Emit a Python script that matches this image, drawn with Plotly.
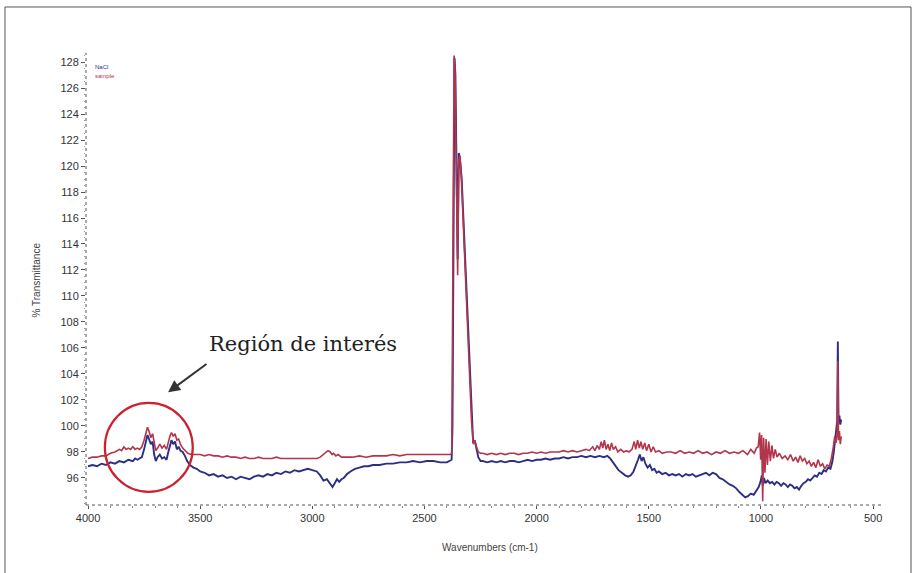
import plotly.graph_objects as go

# ---------------- data ----------------
nacl_wn = [4000,3980,3960,3940,3920,3900,3880,3860,3840,3820,3800,3790,3780,3770,
           3760,3750,3742,3735,3728,3720,3712,3705,3698,3690,3680,3670,3660,3650,
           3642,3635,3628,3620,3612,3604,3596,3588,3578,3568,3558,3545,3530,3515,
           3500,3480,3460,3440,3420,3400,3380,3360,3340,3320,3300,3280,3260,3240,
           3220,3200,3180,3160,3140,3120,3100,3080,3060,3040,3020,3000,2980,2965,
           2950,2935,2920,2910,2900,2890,2880,2870,2860,2845,2830,2810,2790,2770,
           2750,2730,2700,2670,2640,2610,2580,2550,2520,2490,2460,2430,2400,2385,
           2379,2375,2370,2366,2362,2357,2352,2347,2342,2334,2320,2305,2295,2283,
           2276,2268,2260,2250,2240,2220,2200,2180,2160,2140,2120,2100,2080,2060,
           2040,2020,2000,1980,1960,1940,1920,1900,1880,1860,1840,1820,1800,1780,
           1760,1740,1720,1700,1685,1672,1660,1648,1635,1620,1605,1592,1580,1568,
           1558,1548,1540,1532,1524,1515,1505,1495,1485,1475,1465,1455,1440,1425,
           1410,1395,1380,1365,1350,1335,1320,1305,1290,1275,1260,1245,1230,1215,
           1200,1185,1170,1155,1140,1125,1110,1095,1082,1070,1058,1045,1032,1020,
           1010,1002,996,992,986,980,970,960,950,940,930,920,910,900,890,880,870,
           860,850,840,830,820,810,800,790,780,770,760,750,740,730,720,710,700,690,
           682,675,670,665,660,657,654,650,646,642]
nacl_t = [96.9,97.0,96.9,97.1,97.0,97.2,97.1,97.3,97.2,97.4,97.3,97.5,97.4,97.5,
          97.6,98.2,98.9,99.3,99.0,98.6,98.8,97.8,97.3,97.6,97.8,97.5,97.6,97.4,
          98.0,98.5,98.9,98.6,98.8,98.2,98.4,98.1,98.0,97.7,97.3,97.0,96.8,96.7,
          96.5,96.4,96.2,96.3,96.1,96.2,96.0,96.1,95.9,96.1,96.0,95.9,96.1,96.2,
          96.1,96.3,96.2,96.4,96.3,96.5,96.4,96.6,96.5,96.6,96.7,96.6,96.5,96.2,
          95.8,95.9,95.5,95.3,95.6,95.9,95.7,95.9,96.0,96.3,96.5,96.7,96.8,96.9,
          96.9,97.0,97.0,97.1,97.1,97.2,97.2,97.3,97.2,97.3,97.3,97.2,97.2,97.3,
          97.4,100.0,116.0,128.3,127.0,118.5,112.8,121.0,120.6,119.0,113.5,107.5,103.5,98.7,
          98.9,98.2,97.6,97.3,97.3,97.2,97.3,97.2,97.3,97.2,97.3,97.3,97.2,97.3,
          97.4,97.3,97.4,97.4,97.5,97.4,97.5,97.5,97.6,97.5,97.6,97.6,97.7,97.6,
          97.7,97.6,97.7,97.6,97.7,97.5,97.2,96.9,96.6,96.4,96.2,96.1,96.2,96.5,
          96.9,97.4,97.8,97.3,97.6,97.1,96.8,97.0,96.6,96.7,96.4,96.5,96.3,96.4,
          96.2,96.3,96.2,96.3,96.1,96.3,96.2,96.3,96.1,96.2,96.3,96.4,96.2,96.4,
          96.3,96.0,95.9,95.7,95.5,95.4,95.2,94.9,94.7,94.5,94.6,94.8,94.7,95.0,
          95.3,95.7,96.2,95.4,96.0,95.6,95.8,95.6,95.7,95.5,95.7,95.6,95.4,95.6,95.5,95.3,95.5,
          95.4,95.2,95.3,95.1,95.4,95.6,95.7,95.9,95.8,96.0,96.2,96.1,96.4,96.3,96.6,96.5,96.8,96.7,
          97.2,98.0,99.0,99.8,100.4,106.5,100.2,100.8,100.1,100.5]

sample_wn = [4000,3980,3960,3940,3920,3900,3880,3860,3850,3840,3830,3820,3810,3800,
             3790,3780,3770,3760,3750,3742,3735,3728,3720,3712,3705,3698,3690,3680,
             3670,3660,3650,3642,3635,3628,3620,3612,3604,3596,3588,3578,3568,3555,
             3540,3520,3500,3480,3460,3440,3420,3400,3380,3360,3340,3320,3300,3280,
             3260,3240,3220,3200,3180,3160,3140,3120,3100,3080,3060,3040,3020,3000,
             2980,2965,2950,2940,2930,2920,2912,2905,2895,2885,2870,2850,2820,2790,
             2760,2730,2700,2670,2640,2610,2580,2550,2520,2490,2460,2430,2400,2385,
             2378,2374,2368,2364,2358,2352,2347,2342,2336,2325,2312,2300,2290,2282,
             2276,2268,2260,2250,2240,2220,2200,2180,2160,2140,2120,2100,2080,2060,
             2040,2020,2000,1980,1960,1940,1920,1900,1880,1860,1840,1820,1800,1780,
             1765,1750,1740,1730,1720,1712,1705,1698,1690,1682,1674,1666,1658,1648,
             1638,1625,1612,1600,1588,1575,1565,1558,1550,1542,1535,1527,1518,1510,
             1500,1490,1480,1470,1455,1440,1420,1400,1380,1360,1340,1320,1300,1280,
             1260,1240,1220,1200,1180,1160,1140,1120,1100,1080,1060,1045,1030,1020,
             1012,1006,1001,997,992,988,982,977,971,965,958,951,944,936,928,918,905,
             892,880,868,856,845,835,825,815,805,795,785,775,765,755,745,735,725,715,
             705,695,686,678,671,665,660,657,654,650,646,642]
sample_t = [97.5,97.6,97.6,97.7,97.7,97.9,98.0,98.2,98.1,98.4,98.2,98.3,98.2,98.4,
            98.2,98.3,98.2,98.4,98.9,99.5,99.9,99.6,99.1,99.4,98.6,98.1,98.3,98.6,
            98.3,98.5,98.2,98.8,99.2,99.5,99.2,99.4,98.9,99.0,98.6,98.3,98.1,97.9,
            97.8,97.8,97.8,97.7,97.8,97.7,97.7,97.6,97.7,97.6,97.6,97.5,97.6,97.5,
            97.5,97.6,97.5,97.5,97.5,97.6,97.5,97.5,97.5,97.5,97.5,97.5,97.5,97.5,
            97.5,97.6,97.8,97.9,98.1,98.0,97.8,97.9,97.7,97.8,97.6,97.6,97.6,97.7,
            97.6,97.7,97.7,97.7,97.8,97.7,97.8,97.8,97.8,97.8,97.8,97.8,97.8,97.8,
            97.9,110.0,128.5,127.5,118.0,111.6,120.5,120.8,119.3,115.0,110.0,104.5,100.3,98.6,
            98.9,98.4,98.0,97.9,97.9,97.8,97.9,97.8,97.9,97.8,97.9,97.9,97.8,97.9,
            97.9,98.0,97.9,98.0,97.9,98.0,98.0,98.0,98.1,98.0,98.1,98.0,98.1,98.2,
            98.1,98.4,98.1,98.5,98.2,98.8,98.3,98.9,98.2,98.6,98.1,98.7,98.2,98.4,
            98.0,98.2,98.0,98.1,98.0,98.2,98.8,98.2,98.9,98.3,98.8,98.2,98.7,98.1,
            98.6,98.0,98.4,98.0,98.1,97.9,98.0,98.0,97.9,98.1,97.9,98.0,97.9,98.1,
            97.9,98.0,97.8,98.0,97.9,98.1,97.9,98.0,97.9,98.1,97.8,98.2,97.9,98.3,
            98.4,99.5,97.4,99.3,94.2,99.1,96.4,99.0,97.0,98.8,97.3,98.5,97.5,98.2,97.6,97.9,97.5,
            97.7,97.4,97.8,97.3,97.6,97.2,97.7,97.3,97.5,97.1,97.3,96.9,97.2,96.8,97.4,96.9,97.1,96.7,
            97.0,96.9,97.5,98.3,99.2,98.7,99.4,105.0,98.9,99.6,98.6,99.2]

x_ticks = [4000, 3500, 3000, 2500, 2000, 1500, 1000, 500]
y_ticks = list(range(96, 129, 2))

BLUE = "#2c2f85"
RED = "#b3354b"
TICKFONT = dict(family="Liberation Sans Narrow, Liberation Sans, Arial", size=11, color="#333")

fig = go.Figure()
fig.add_trace(go.Scatter(x=nacl_wn, y=nacl_t, mode="lines", name="NaCl",
                         line=dict(color=BLUE, width=1.9)))
fig.add_trace(go.Scatter(x=sample_wn, y=sample_t, mode="lines", name="sample",
                         line=dict(color=RED, width=1.6)))

fig.update_layout(
    width=914, height=573, autosize=False,
    margin=dict(l=86, r=36, t=55, b=68),
    paper_bgcolor="white", plot_bgcolor="white",
    showlegend=False,
    xaxis=dict(range=[4009, 478], tickvals=x_ticks, ticktext=[str(v) for v in x_ticks],
               showgrid=False, zeroline=False, showline=False,
               ticks="outside", ticklen=3, tickcolor="#555", tickfont=TICKFONT,
               minor=dict(dtick=100, ticks="outside", ticklen=2, tickcolor="#888")),
    yaxis=dict(range=[93.92, 128.54], tickvals=y_ticks, ticktext=[str(v) for v in y_ticks],
               showgrid=False, zeroline=False, showline=False,
               ticks="outside", ticklen=4, tickcolor="#555", tickfont=TICKFONT,
               minor=dict(dtick=0.5, ticks="outside", ticklen=1, tickcolor="#999")),
)

shapes = [
    # dotted axis lines
    dict(type="line", xref="paper", yref="paper", x0=0, x1=1.005, y0=0, y1=0,
         line=dict(color="#555", width=1, dash="dot")),
    dict(type="line", xref="paper", yref="paper", x0=0, x1=0, y0=0, y1=1.005,
         line=dict(color="#555", width=1, dash="dot")),
    # red circle around the region of interest
    dict(type="circle", xref="x", yref="y", x0=3925, x1=3533, y0=94.93, y1=101.77,
         line=dict(color="#cc2230", width=2.2)),
    # outer frame of the scanned figure (left, top, right)
    dict(type="line", xref="paper", yref="paper", x0=-0.1023, x1=-0.1023, y0=-0.2, y1=1.1067,
         line=dict(color="#555", width=1)),
    dict(type="line", xref="paper", yref="paper", x0=-0.1023, x1=1.0417, y0=1.1067, y1=1.1067,
         line=dict(color="#555", width=1)),
    dict(type="line", xref="paper", yref="paper", x0=1.0417, x1=1.0417, y0=-0.2, y1=1.1067,
         line=dict(color="#555", width=1)),
]
fig.update_layout(shapes=shapes)

annotations = [
    dict(text="Región de interés", xref="x", yref="y", x=3469, y=106.3, showarrow=False,
         font=dict(family="DejaVu Serif, Liberation Serif, serif", size=21, color="#222"),
         xanchor="left", yanchor="middle"),
    dict(text="", xref="x", yref="y", x=3643, y=102.6, ax=3465, ay=104.85,
         axref="x", ayref="y", showarrow=True, arrowhead=2, arrowsize=1.2,
         arrowwidth=2, arrowcolor="#333"),
    dict(text="% Transmittance", xref="paper", yref="paper", x=-0.072, y=0.5, textangle=-90,
         showarrow=False, font=dict(family="Liberation Sans Narrow, Liberation Sans", size=10, color="#444")),
    dict(text="Wavenumbers (cm-1)", xref="paper", yref="paper", x=0.51, y=-0.094,
         showarrow=False, yanchor="middle",
         font=dict(family="Liberation Sans Narrow, Liberation Sans", size=10, color="#444")),
    dict(text="NaCl", xref="paper", yref="paper", x=0.009, y=0.985, xanchor="left",
         showarrow=False, font=dict(family="Liberation Sans Narrow, Liberation Sans", size=6, color=BLUE)),
    dict(text="sample", xref="paper", yref="paper", x=0.009, y=0.965, xanchor="left",
         showarrow=False, font=dict(family="Liberation Sans Narrow, Liberation Sans", size=6, color=RED)),
]
fig.update_layout(annotations=annotations)

fig.write_html("out.html")
